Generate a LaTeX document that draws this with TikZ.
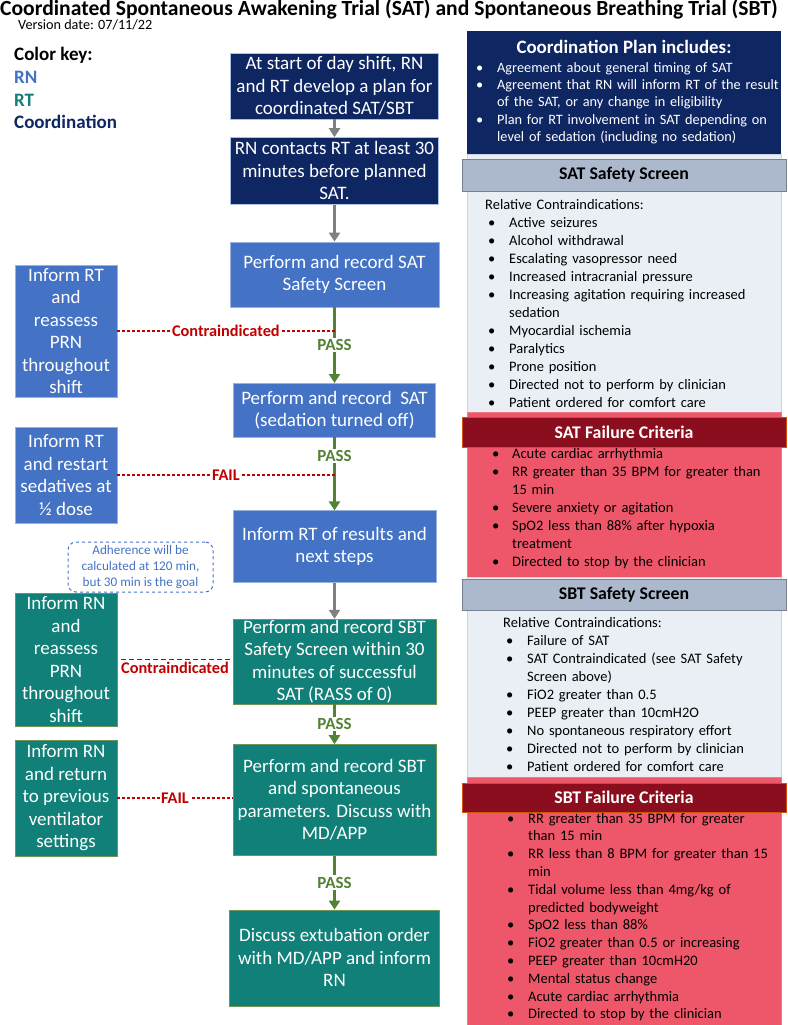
\documentclass[tikz,border=0pt]{standalone}
\usepackage{fontspec}
\setmainfont{Carlito}
\usetikzlibrary{arrows.meta,positioning}
\definecolor{navy}{RGB}{14,38,98}
\definecolor{rnblue}{RGB}{68,114,196}
\definecolor{rtteal}{RGB}{16,128,120}
\definecolor{arrowgrey}{RGB}{128,128,128}
\definecolor{passgreen}{RGB}{84,130,53}
\definecolor{failred}{RGB}{192,0,0}
\definecolor{headgrey}{RGB}{172,185,204}
\definecolor{bodygrey}{RGB}{234,238,245}
\definecolor{headred}{RGB}{139,14,30}
\definecolor{bodyred}{RGB}{238,87,106}
\newcommand{\bi}[1]{\hangindent=\tx\hangafter=1\noindent\hspace*{\bx}\makebox[\dimexpr\tx-\bx\relax][l]{\textbullet}#1\par}
\tikzset{
  comp/.style={rectangle,align=center,text=white,inner xsep=2pt,inner ysep=0pt,font=\fontsize{19}{22.5}\selectfont},
  coordbox/.style={comp,fill=navy,draw=rnblue!45},
  rnbox/.style={comp,fill=rnblue,draw=rnblue!55},
  rtbox/.style={comp,fill=rtteal,draw=passgreen!85},
  side/.style={minimum width=102pt},
  flow/.style={-{Triangle[length=9pt,width=11pt]},line width=2.5pt,arrowgrey},
  passline/.style={-{Triangle[length=9pt,width=11pt]},line width=2.5pt,passgreen},
  passlbl/.style={fill=white,inner sep=1.5pt,text=passgreen,font=\fontsize{17}{19}\selectfont\bfseries},
  failline/.style={line width=1.5pt,failred,dash pattern=on 3pt off 2pt},
  faillbl/.style={fill=white,inner sep=1pt,text=failred,font=\fontsize{16.3}{18}\selectfont\bfseries},
  keytxt/.style={anchor=base west,inner sep=0pt,font=\fontsize{19}{22}\selectfont\bfseries},
  note/.style={draw=rnblue,dashed,line width=1pt,rounded corners=8pt,align=center,text=rnblue,minimum width=145pt,minimum height=50pt,inner sep=1pt,font=\fontsize{13.2}{16}\selectfont},
  panel/.style={rectangle,anchor=north west,minimum width=314pt,inner sep=0pt},
  screenhd/.style={rectangle,fill=headgrey,draw=headgrey!70!black,minimum width=324pt,inner sep=0pt,font=\fontsize{17.8}{20}\selectfont\bfseries},
  failhd/.style={rectangle,fill=headred,draw=orange!60!headred,minimum width=324pt,inner sep=0pt,text=white,font=\fontsize{17.8}{20}\selectfont\bfseries},
  lst/.style 2 args={anchor=base west,inner sep=0pt,text width=400pt,align=left,font=\fontsize{14.5}{18}\selectfont,execute at begin node={\def\bx{#1}\def\tx{#2}\hyphenpenalty=10000}}
}

\begin{document}
\begin{tikzpicture}[x=1pt,y=-1pt]
\useasboundingbox (0,0) rectangle (787,1025);

\node[anchor=base west,inner sep=0pt,font=\fontsize{21.6}{24}\selectfont\bfseries] (title) at (0,16) {Coordinated Spontaneous Awakening Trial (SAT) and Spontaneous Breathing Trial (SBT)};
\node[anchor=base west,inner sep=0pt,font=\fontsize{14.2}{16}\selectfont] (version) at (18,30) {Version date: 07/11/22};

\node[keytxt] (key) at (14,60) {Color key:};
\node[keytxt,text=rnblue] (keyrn) at (14,83) {RN};
\node[keytxt,text=rtteal] (keyrt) at (14,106) {RT};
\node[keytxt,text=navy] (keyco) at (14,128) {Coordination};

\node[coordbox,minimum width=208pt,minimum height=66pt] (start) at (334.5,86) {At start of day shift, RN\\and RT develop a plan for\\coordinated SAT/SBT};
\node[coordbox,minimum width=208pt,minimum height=67pt,below=18pt of start] (contact) {RN contacts RT at least 30\\minutes before planned\\SAT.};
\node[rnbox,minimum width=209pt,minimum height=65pt,below=37pt of contact] (satscr) {Perform and record SAT\\Safety Screen};
\node[rnbox,minimum width=202pt,minimum height=54pt,below=76pt of satscr] (sat) {Perform and record\ \ SAT\\(sedation turned off)};
\node[rnbox,minimum width=203pt,minimum height=72pt,below=73pt of sat] (inform) {Inform RT of results and\\next steps};
\node[rtbox,minimum width=203pt,minimum height=85pt,below=36pt of inform] (sbtscr) {Perform and record SBT\\Safety Screen within 30\\minutes of successful\\SAT (RASS of 0)};
\node[rtbox,minimum width=203pt,minimum height=111pt,below=40pt of sbtscr] (sbt) {Perform and record SBT\\and spontaneous\\parameters. Discuss with\\MD/APP};
\node[rtbox,minimum width=210pt,minimum height=96pt,below=54pt of sbt] (extub) {Discuss extubation order\\with MD/APP and inform\\RN};

\node[rnbox,side,minimum height=132pt] (rt1) at (66,331) {Inform RT\\and\\reassess\\PRN\\throughout\\shift};
\node[rnbox,side,minimum height=96pt] (rt2) at (66,475) {Inform RT\\and restart\\sedatives at\\½ dose};
\node[rtbox,side,minimum height=133pt] (rn1) at (66,659.5) {Inform RN\\and\\reassess\\PRN\\throughout\\shift};
\node[rtbox,side,minimum height=116pt] (rn2) at (66,798) {Inform RN\\and return\\to previous\\ventilator\\settings};

\node[note] (note) at (140.5,567) {Adherence will be\\calculated at 120 min,\\but 30 min is the goal};

\draw[flow] (start) -- (contact);
\draw[flow] (contact) -- (satscr);
\draw[passline] (satscr) -- node[passlbl] {PASS} (sat);
\draw[passline] (sat) -- node[passlbl,pos=0.25] {PASS} (inform);
\draw[flow] (inform) -- (sbtscr);
\draw[passline] (sbtscr) -- node[passlbl] {PASS} (sbt);
\draw[passline] (sbt) -- node[passlbl] {PASS} (extub);

\draw[failline] (rt1.east) -- node[faillbl] {Contraindicated} (rt1.east -| satscr.south);
\draw[failline] (rt2.east) -- node[faillbl] {FAIL} (rt2.east -| sat.south);
\draw[failline,line width=1.2pt,dash pattern=on 5pt off 3pt,shorten <=4pt] (rn1.east) -- node[faillbl,below=1pt] {Contraindicated} (rn1.east -| sbtscr.west);
\draw[failline] (rn2.east) -- node[faillbl] {FAIL} (rn2.east -| sbt.west);

\node[panel,fill=navy,minimum height=123pt] (plan) at (467,31) {};
\node[panel,fill=bodygrey,draw=headgrey!60,minimum height=258pt] (satsafe) at (467,154) {};
\node[panel,fill=bodyred,draw=bodyred!80!white,minimum height=165pt] (satfail) at (467,412) {};
\node[panel,fill=bodygrey,draw=headgrey!60,minimum height=200pt] (sbtsafe) at (467,577) {};
\node[panel,fill=bodyred,draw=bodyred!80!white,minimum height=248pt] (sbtfail) at (467,777) {};

\node[screenhd,minimum height=32pt] (satsafehd) at (624,175) {SAT Safety Screen};
\node[failhd,minimum height=30pt] (satfailhd) at (624,432) {SAT Failure Criteria};
\node[screenhd,minimum height=31pt] (sbtsafehd) at (624,594.5) {SBT Safety Screen};
\node[failhd,minimum height=29pt] (sbtfailhd) at (624,797.5) {SBT Failure Criteria};

\node[anchor=base,inner sep=0pt,text=white,font=\fontsize{18.9}{21}\selectfont\bfseries] (plantitle) at (624,53) {Coordination Plan includes:};
\node[lst={9pt}{30pt},text=white,font=\fontsize{14.3}{17.5}\selectfont] (plantxt) at (467,72) {%
\bi{Agreement about general timing of SAT}
\bi{Agreement that RN will inform RT of the result\newline of the SAT, or any change in eligibility}
\bi{Plan for RT involvement in SAT depending on\newline level of sedation (including no sedation)}};

\node[lst={21pt}{42pt}] (satsafetxt) at (467,209) {%
\hspace*{18pt}Relative Contraindications:\par
\bi{Active seizures}
\bi{Alcohol withdrawal}
\bi{Escalating vasopressor need}
\bi{Increased intracranial pressure}
\bi{Increasing agitation requiring increased\newline sedation}
\bi{Myocardial ischemia}
\bi{Paralytics}
\bi{Prone position}
\bi{Directed not to perform by clinician}
\bi{Patient ordered for comfort care}};

\node[lst={25pt}{45pt}] (satfailtxt) at (467,458) {%
\bi{Acute cardiac arrhythmia}
\bi{RR greater than 35 BPM for greater than\newline 15 min}
\bi{Severe anxiety or agitation}
\bi{SpO2 less than 88\% after hypoxia\newline treatment}
\bi{Directed to stop by the clinician}};

\node[lst={39pt}{60pt}] (sbtsafetxt) at (467,627) {%
\hspace*{36pt}Relative Contraindications:\par
\bi{Failure of SAT}
\bi{SAT Contraindicated (see SAT Safety\newline Screen above)}
\bi{FiO2 greater than 0.5}
\bi{PEEP greater than 10cmH2O}
\bi{No spontaneous respiratory effort}
\bi{Directed not to perform by clinician}
\bi{Patient ordered for comfort care}};

\node[lst={40pt}{61pt},font=\fontsize{14.5}{17.8}\selectfont] (sbtfailtxt) at (467,823) {%
\bi{RR greater than 35 BPM for greater\newline than 15 min}
\bi{RR less than 8 BPM for greater than 15\newline min}
\bi{Tidal volume less than 4mg/kg of\newline predicted bodyweight}
\bi{SpO2 less than 88\%}
\bi{FiO2 greater than 0.5 or increasing}
\bi{PEEP greater than 10cmH20}
\bi{Mental status change}
\bi{Acute cardiac arrhythmia}
\bi{Directed to stop by the clinician}};

\end{tikzpicture}
\end{document}
